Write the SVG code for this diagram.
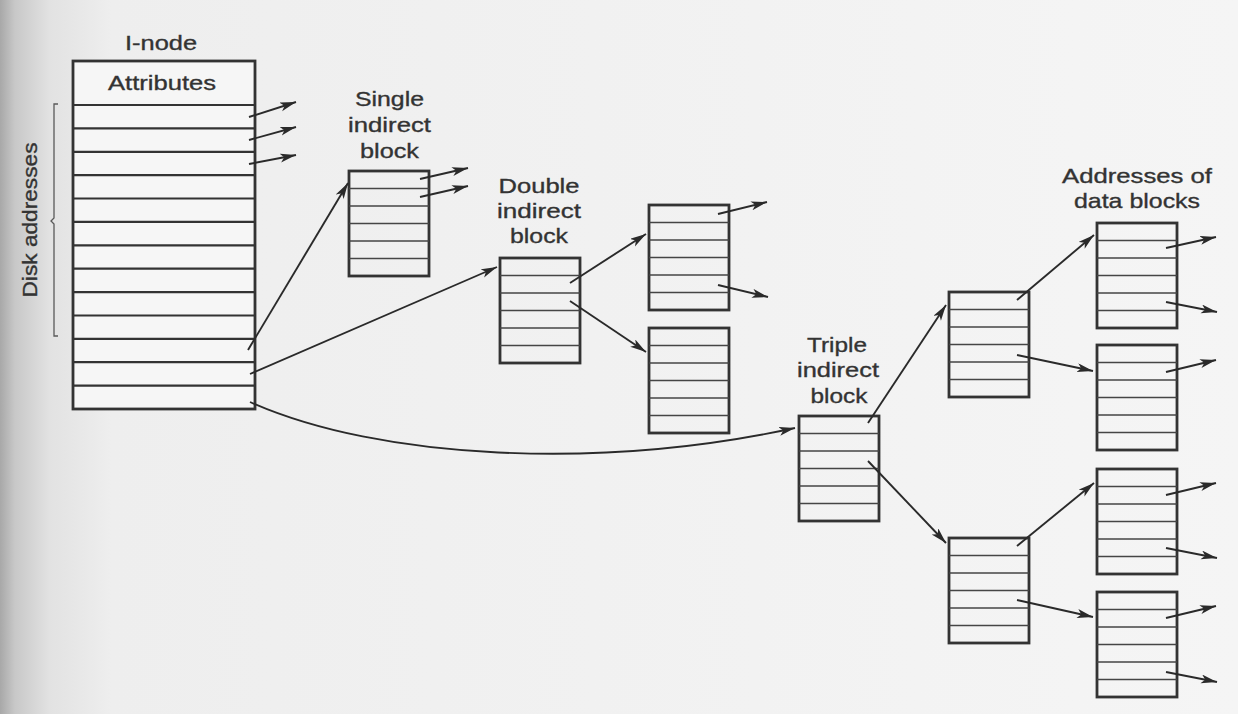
<svg xmlns="http://www.w3.org/2000/svg" xmlns:xlink="http://www.w3.org/1999/xlink" width="1238" height="714" viewBox="0 0 1238 714">
  <style>
    .lbl { font-family: "Liberation Sans", Arial, sans-serif; font-size: 21px; fill: #333333; stroke: #333333; stroke-width: 0.35; text-anchor: middle; }
    .frame { fill: none; stroke: #333333; stroke-width: 2.8; }
    .row { stroke: #454545; stroke-width: 1.7; }
    .irow { stroke: #333333; stroke-width: 2.2; }
    .arr { fill: none; stroke: #2a2a2a; stroke-width: 1.9; marker-end: url(#ah); }
  </style>
  <defs>
    <linearGradient id="page" x1="0" y1="0" x2="1" y2="0">
      <stop offset="0" stop-color="#a8a8a8"/>
      <stop offset="0.012" stop-color="#c8c8c8"/>
      <stop offset="0.04" stop-color="#e2e2e2"/>
      <stop offset="0.09" stop-color="#eeeeee"/>
      <stop offset="1" stop-color="#f5f5f5"/>
    </linearGradient>
    <marker id="ah" markerUnits="userSpaceOnUse" markerWidth="18" markerHeight="12" refX="16" refY="4.5" orient="auto">
      <path d="M0,0 L16,4.5 L0,9 L4,4.5 z" fill="#2a2a2a"/>
    </marker>
    <g id="blk">
      <rect class="frame" x="0" y="0" width="80" height="105" fill="#f7f7f7"/>
      <line class="row" x1="0" y1="17.5" x2="80" y2="17.5"/>
      <line class="row" x1="0" y1="35" x2="80" y2="35"/>
      <line class="row" x1="0" y1="52.5" x2="80" y2="52.5"/>
      <line class="row" x1="0" y1="70" x2="80" y2="70"/>
      <line class="row" x1="0" y1="87.5" x2="80" y2="87.5"/>
    </g>
  </defs>

  <rect x="0" y="0" width="1238" height="714" fill="url(#page)"/>

  <g id="inode">
    <text class="lbl" x="161" y="50" textLength="72" lengthAdjust="spacingAndGlyphs">I-node</text>
    <rect x="73" y="61" width="182" height="348" fill="#f6f6f6" stroke="#333333" stroke-width="2.8"/>
    <text class="lbl" x="162" y="90" textLength="108" lengthAdjust="spacingAndGlyphs">Attributes</text>
    <line class="irow" x1="73" y1="105" x2="255" y2="105"/>
    <line class="irow" x1="73" y1="128.4" x2="255" y2="128.4"/>
    <line class="irow" x1="73" y1="151.8" x2="255" y2="151.8"/>
    <line class="irow" x1="73" y1="175.1" x2="255" y2="175.1"/>
    <line class="irow" x1="73" y1="198.5" x2="255" y2="198.5"/>
    <line class="irow" x1="73" y1="221.9" x2="255" y2="221.9"/>
    <line class="irow" x1="73" y1="245.3" x2="255" y2="245.3"/>
    <line class="irow" x1="73" y1="268.7" x2="255" y2="268.7"/>
    <line class="irow" x1="73" y1="292.1" x2="255" y2="292.1"/>
    <line class="irow" x1="73" y1="315.5" x2="255" y2="315.5"/>
    <line class="irow" x1="73" y1="338.8" x2="255" y2="338.8"/>
    <line class="irow" x1="73" y1="362.2" x2="255" y2="362.2"/>
    <line class="irow" x1="73" y1="385.6" x2="255" y2="385.6"/>
  </g>

  <g id="disk-addresses">
    <path d="M58,104 L54,104 L54,218 L51,221 L54,224 L54,336 L58,336" fill="none" stroke="#5a5a5a" stroke-width="1.3"/>
    <text class="lbl" x="0" y="0" transform="translate(37,220) rotate(-90)" textLength="155" lengthAdjust="spacingAndGlyphs" font-size="19">Disk addresses</text>
  </g>

  <g id="single-indirect">
    <text class="lbl" x="389.5" y="106" textLength="69" lengthAdjust="spacingAndGlyphs">Single</text>
    <text class="lbl" x="389.5" y="132" textLength="83" lengthAdjust="spacingAndGlyphs">indirect</text>
    <text class="lbl" x="389.5" y="158" textLength="59" lengthAdjust="spacingAndGlyphs">block</text>
    <use xlink:href="#blk" x="349" y="171"/>
  </g>

  <g id="double-indirect">
    <text class="lbl" x="539" y="193" textLength="81" lengthAdjust="spacingAndGlyphs">Double</text>
    <text class="lbl" x="539" y="218" textLength="84" lengthAdjust="spacingAndGlyphs">indirect</text>
    <text class="lbl" x="539" y="243" textLength="58" lengthAdjust="spacingAndGlyphs">block</text>
    <use xlink:href="#blk" x="500" y="258"/>
  </g>

  <g id="double-level2-a"><use xlink:href="#blk" x="649" y="205"/></g>
  <g id="double-level2-b"><use xlink:href="#blk" x="649" y="328"/></g>

  <g id="triple-indirect">
    <text class="lbl" x="837" y="352" textLength="60" lengthAdjust="spacingAndGlyphs">Triple</text>
    <text class="lbl" x="838" y="377" textLength="82" lengthAdjust="spacingAndGlyphs">indirect</text>
    <text class="lbl" x="839" y="403" textLength="57" lengthAdjust="spacingAndGlyphs">block</text>
    <use xlink:href="#blk" x="799" y="416"/>
  </g>

  <g id="triple-level2-a"><use xlink:href="#blk" x="949" y="292"/></g>
  <g id="triple-level2-b"><use xlink:href="#blk" x="949" y="538"/></g>

  <g id="data-addresses-label">
    <text class="lbl" x="1137" y="183" textLength="150" lengthAdjust="spacingAndGlyphs">Addresses of</text>
    <text class="lbl" x="1137" y="208" textLength="126" lengthAdjust="spacingAndGlyphs">data blocks</text>
  </g>
  <g id="data-a"><use xlink:href="#blk" x="1097" y="223"/></g>
  <g id="data-b"><use xlink:href="#blk" x="1097" y="345"/></g>
  <g id="data-c"><use xlink:href="#blk" x="1097" y="469"/></g>
  <g id="data-d"><use xlink:href="#blk" x="1097" y="592"/></g>

  <g id="connectors">
    <line class="arr" x1="249" y1="117" x2="296" y2="102"/>
    <line class="arr" x1="249" y1="140" x2="296" y2="127"/>
    <line class="arr" x1="249" y1="164" x2="296" y2="155"/>
    <line class="arr" x1="248" y1="350" x2="348" y2="183"/>
    <line class="arr" x1="250" y1="374" x2="497" y2="267"/>
    <path class="arr" d="M250,402 C380,460 600,470 795,428"/>

    <line class="arr" x1="420" y1="179" x2="468" y2="168"/>
    <line class="arr" x1="420" y1="197" x2="468" y2="186"/>

    <line class="arr" x1="570" y1="283" x2="646" y2="234"/>
    <line class="arr" x1="570" y1="301" x2="646" y2="352"/>

    <line class="arr" x1="718" y1="214" x2="767" y2="202"/>
    <line class="arr" x1="718" y1="285" x2="768" y2="297"/>

    <line class="arr" x1="868" y1="423" x2="946" y2="305"/>
    <line class="arr" x1="868" y1="461" x2="946" y2="543"/>

    <line class="arr" x1="1017" y1="300" x2="1094" y2="235"/>
    <line class="arr" x1="1017" y1="355" x2="1093" y2="371"/>
    <line class="arr" x1="1017" y1="546" x2="1094" y2="483"/>
    <line class="arr" x1="1017" y1="600" x2="1093" y2="617"/>

    <line class="arr" x1="1166" y1="248" x2="1216" y2="237"/>
    <line class="arr" x1="1166" y1="302" x2="1217" y2="312"/>
    <line class="arr" x1="1166" y1="372" x2="1216" y2="360"/>
    <line class="arr" x1="1166" y1="495" x2="1216" y2="483"/>
    <line class="arr" x1="1166" y1="548" x2="1217" y2="558"/>
    <line class="arr" x1="1166" y1="618" x2="1216" y2="606"/>
    <line class="arr" x1="1166" y1="672" x2="1217" y2="682"/>
  </g>
</svg>
